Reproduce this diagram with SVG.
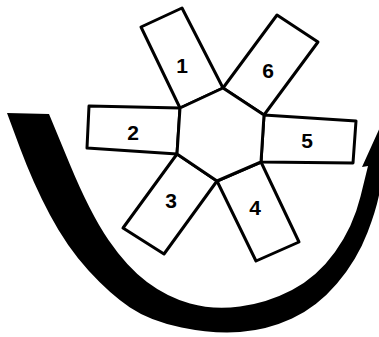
<svg xmlns="http://www.w3.org/2000/svg" width="379" height="337" viewBox="0 0 379 337">
<style>
.blade{fill:#fff;stroke:#000;stroke-width:3;stroke-linejoin:round}
.lbl{font-family:"Liberation Sans",Arial,sans-serif;font-weight:bold;font-size:21px;fill:#000;text-anchor:middle}
</style>
<rect width="379" height="337" fill="#fff"/>
<g id="connectors">
<path d="M49,114 L69.5,163.5 Q90,213 108.5,240 Q127,267 147,282 Q167,297 190,303.5 Q213,310 240,306.5 Q267,303 292,290 Q317,277 335,252 Q353,227 360.5,196.5 L368,166 L362,167 L381,125 L396,170 L383,168 L380.5,186.5 Q378,205 367.5,232.5 Q357,260 337,283.5 Q317,307 292,318.5 Q267,330 240,332 Q213,334 181.5,327.5 Q150,321 130,307.5 Q110,294 88.5,270.5 Q67,247 50,215 Q33,183 20,148 L7,113 Z" fill="#000"/>
</g>
<g id="blade1"><polygon class="blade" points="141,27 182,8 223,88 180,108"/><text class="lbl" x="182" y="73">1</text></g>
<g id="blade6"><polygon class="blade" points="277,15 318,42 264,115 223,88"/><text class="lbl" x="268" y="78">6</text></g>
<g id="blade2"><polygon class="blade" points="89,106 180,108 177,154 87,148"/><text class="lbl" x="133" y="140">2</text></g>
<g id="blade5"><polygon class="blade" points="264,115 356,121 353,163 261,162"/><text class="lbl" x="307" y="148">5</text></g>
<g id="blade3"><polygon class="blade" points="177,154 217,181 164,254 123,228"/><text class="lbl" x="171" y="208">3</text></g>
<g id="blade4"><polygon class="blade" points="217,181 261,162 299,242 256,261"/><text class="lbl" x="255" y="215">4</text></g>
<g id="hub"><polygon class="blade" points="223,88 264,115 261,162 217,181 177,154 180,108"/></g>
</svg>
